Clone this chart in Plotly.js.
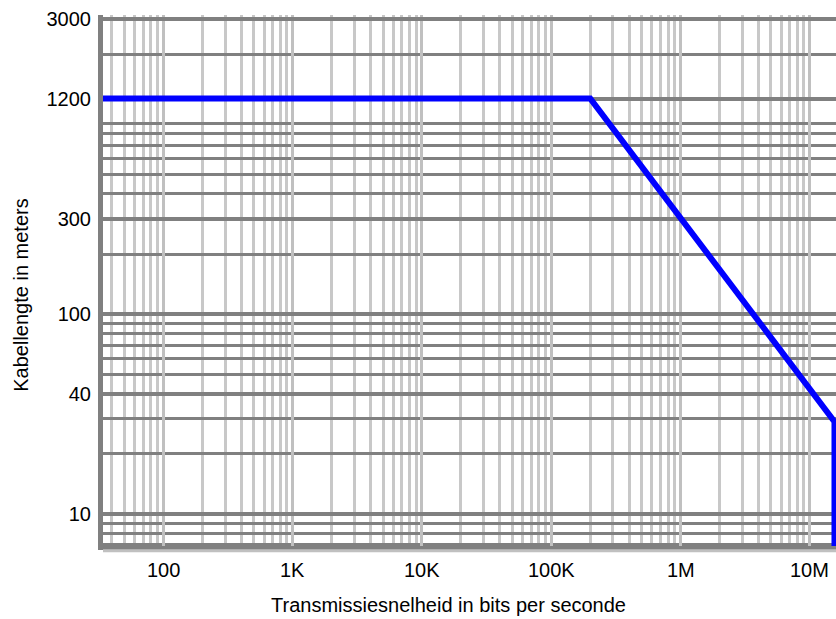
<!DOCTYPE html>
<html>
<head>
<meta charset="utf-8">
<script src="https://cdn.plot.ly/plotly-3.0.1.min.js"></script>
<style>html,body{margin:0;padding:0;background:#fff;}#chart{width:836px;height:619px;}</style>
</head>
<body>
<div id="chart"></div>
<script>
// Data (cable length vs. transmission rate)
const rateBps  = [30, 200000, 15500000, 15500000];
const lengthM  = [1200, 1200, 29, 5];

// Tick labels
const xTickVals = [100, 1000, 10000, 100000, 1000000, 10000000];
const xTickText = ['100', '1K', '10K', '100K', '1M', '10M'];
const yTickVals = [10, 40, 100, 300, 1200, 3000];
const yTickText = ['10', '40', '100', '300', '1200', '3000'];

const xTitle = 'Transmissiesnelheid in bits per seconde';
const yTitle = 'Kabellengte in meters';

// minor grid positions (2..9 per decade)
function minorVals(lo, hi) {
  const out = [];
  for (let e = lo; e <= hi; e++) {
    for (let m = 2; m <= 9; m++) out.push(m * Math.pow(10, e));
  }
  return out;
}

const font = {family: 'Liberation Sans, Arial, sans-serif', size: 20, color: '#000'};

const trace = {
  x: rateBps, y: lengthM, type: 'scatter', mode: 'lines',
  line: {color: '#0000ff', width: 6},
  hoverinfo: 'x+y'
};

// x tick labels placed through the x axis scale (log axis -> log10 coordinates)
const xLabelAnnotations = xTickVals.map((v, i) => ({
  text: xTickText[i], xref: 'x', yref: 'paper', x: Math.log10(v), y: -0.0452,
  xanchor: 'center', yanchor: 'middle', showarrow: false, font: font
}));

const layout = {
  width: 836, height: 619,
  margin: {l: 103, r: 0, t: 15, b: 73},
  paper_bgcolor: '#fff', plot_bgcolor: '#fff',
  showlegend: false,
  font: font,
  xaxis: {
    type: 'log', range: [1.533, 7.202],
    tickmode: 'array', tickvals: xTickVals, ticktext: xTickText,
    showticklabels: false, ticks: '',
    showgrid: true, gridcolor: '#c0c0c0', gridwidth: 3,
    minor: {tickmode: 'array', tickvals: minorVals(1, 7), showgrid: true, gridcolor: '#c8c8c8', gridwidth: 3, ticks: ''},
    showline: true, linecolor: '#808080', linewidth: 4,
    zeroline: false, fixedrange: true
  },
  yaxis: {
    type: 'log', range: [0.84, 3.497],
    tickmode: 'array', tickvals: yTickVals, ticktext: yTickText,
    ticks: '', ticklabelstandoff: 3,
    showgrid: true, gridcolor: '#808080', gridwidth: 4,
    minor: {tickmode: 'array', tickvals: minorVals(0, 3), showgrid: true, gridcolor: '#808080', gridwidth: 3, ticks: ''},
    showline: true, linecolor: '#808080', linewidth: 5,
    zeroline: false, fixedrange: true,
    tickfont: font
  },
  shapes: [
    {type: 'line', xref: 'paper', yref: 'paper', x0: 0, x1: 1, y0: -0.009, y1: -0.009,
     line: {color: '#c0c0c0', width: 3}}
  ],
  annotations: xLabelAnnotations.concat([
    {text: xTitle, xref: 'paper', yref: 'paper', x: 0.472, y: -0.111,
     xanchor: 'center', yanchor: 'middle', showarrow: false, font: font},
    {text: yTitle, xref: 'paper', yref: 'paper', x: -0.112, y: 0.473,
     xanchor: 'center', yanchor: 'middle', textangle: -90, showarrow: false, font: font}
  ])
};

Plotly.newPlot('chart', [trace], layout, {displayModeBar: false, staticPlot: true});
</script>
</body>
</html>
